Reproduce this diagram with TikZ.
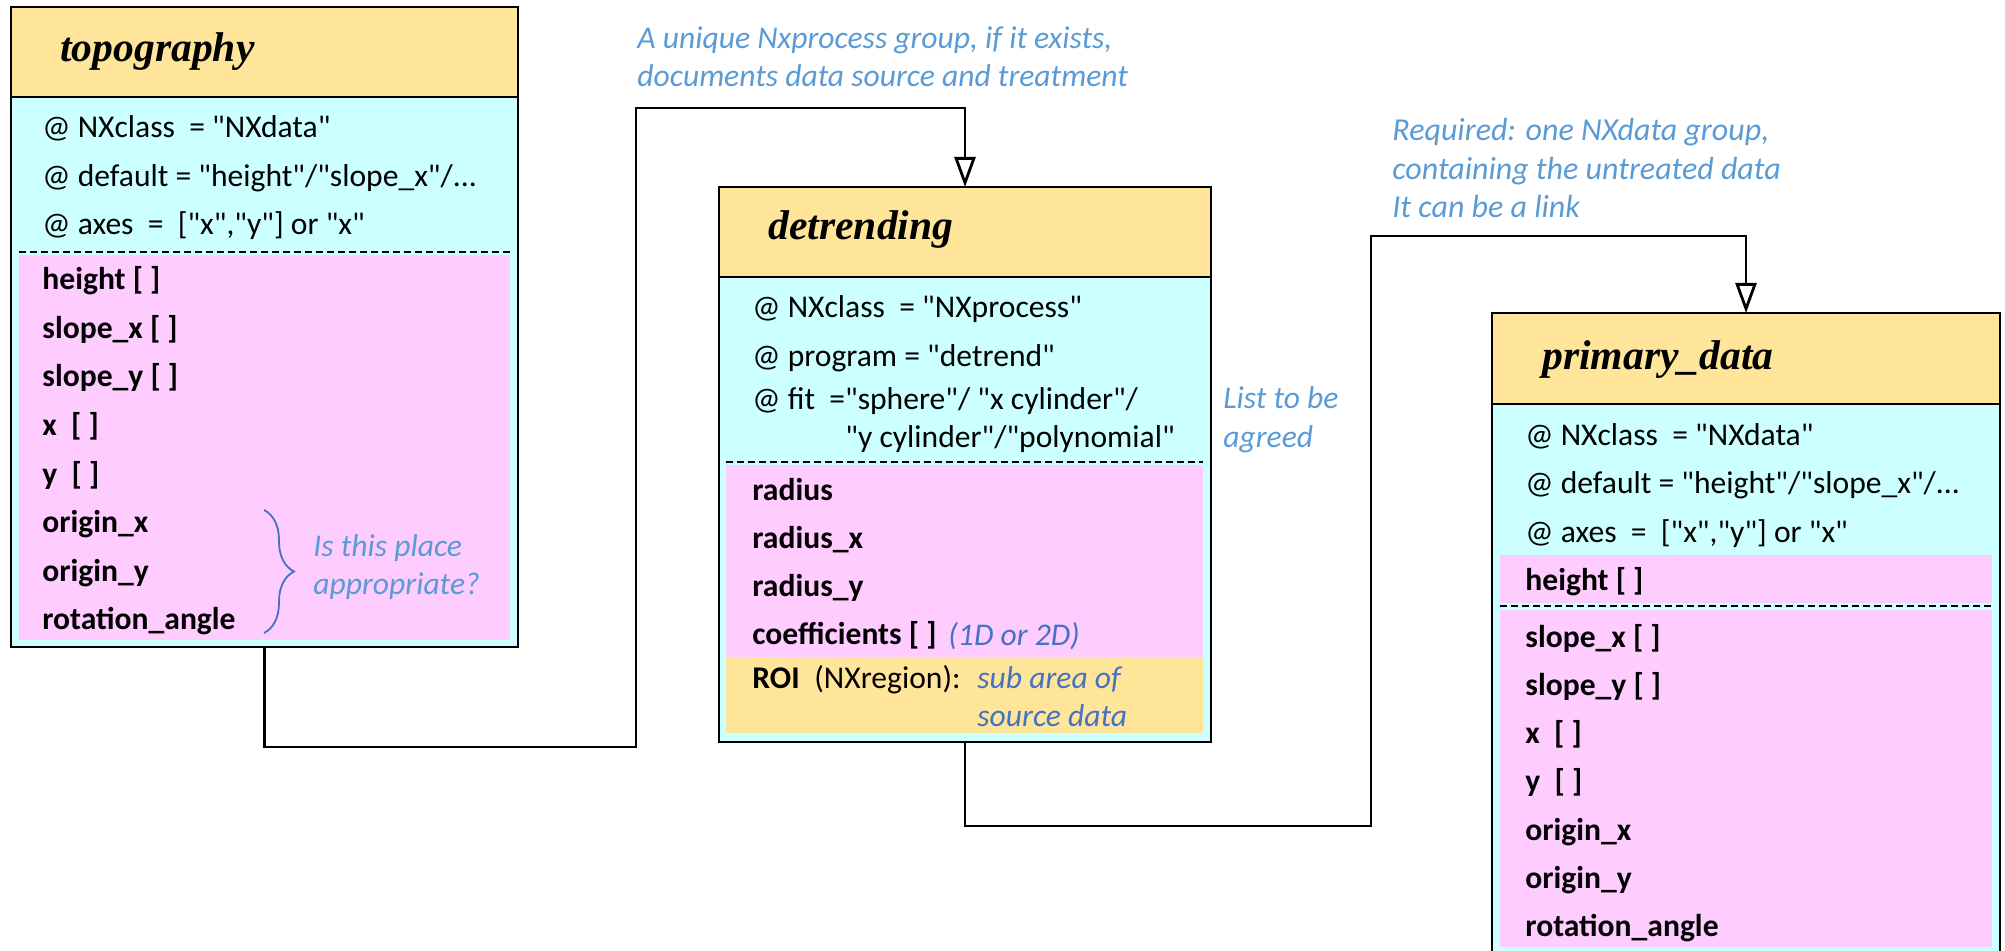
\documentclass[tikz,border=0pt]{standalone}
\usepackage{fontspec}
\setmainfont{Carlito}[Ligatures=TeXOff]
\newfontfamily\titlefont{Liberation Serif}
\usetikzlibrary{arrows.meta,decorations.pathreplacing}

\definecolor{headyellow}{HTML}{FFE599}
\definecolor{bodycyan}{HTML}{CCFFFF}
\definecolor{fieldpink}{HTML}{FFCCFF}
\definecolor{notecolor}{HTML}{5B9BD5}
\definecolor{notedark}{HTML}{4472C4}

\begin{document}
\begin{tikzpicture}
[x=0.5pt, y=-0.5pt]
\tikzset{
	classbox/.style = {rectangle, draw, line width=1.4pt, fill=bodycyan, anchor=north west, inner sep=0, outer sep=0},
	classhead/.style = {rectangle, draw, line width=1.4pt, fill=headyellow, anchor=north west, inner sep=0, outer sep=0, minimum height=45pt},
	classname/.style = {anchor=base west, inner sep=0, font=\titlefont\bfseries\itshape\fontsize{20.8}{24}\selectfont},
	attr/.style = {anchor=base west, inner sep=0, font=\fontsize{15.8}{19}\selectfont},
	field/.style = {anchor=base west, inner sep=0, font=\bfseries\fontsize{15.8}{19}\selectfont},
	note/.style = {anchor=base west, inner sep=0, align=left, text=notecolor, font=\itshape\fontsize{15.8}{19}\selectfont},
	divider/.style = {line width=1pt, dash pattern=on 3.5pt off 2pt},
	link/.style = {line width=1.4pt, -{Triangle[open, length=15pt, width=10.5pt]}}
}

\useasboundingbox (0,0) rectangle (2005,951);

% topography
\node[classbox, minimum width=253.5pt, minimum height=320pt] (topo) at (11,7) {};
\node[classhead, minimum width=253.5pt] (topo-head) at (11,7) {};
\node[classname] (topo-name) at (60,62) {topography};
\fill[fieldpink] (19,255) rectangle (510,640);
\draw[divider] (19,252) -- (510,252);
\node[attr] (topo-a1) at (42,138) {@ NXclass\ \ = "NXdata"};
\node[attr] (topo-a2) at (42,187) {@ default = "height"/"slope\_x"/...};
\node[attr] (topo-a3) at (42,235) {@ axes\ \ =\ \ ["x","y"] or "x"};
\foreach \f [count=\i from 0] in {{height [ ]}, {slope\_x [ ]}, {slope\_y [ ]}, {x\ \ [ ]}, {y\ \ [ ]}, {origin\_x}, {origin\_y}, {rotation\_angle}}
	\node[field] (topo-f\i) at (42,{290+48.5*\i}) {\f};
\draw[notedark, line width=0.9pt, decorate, decoration={brace, amplitude=15pt}] (264,510) -- (264,633);
\node[note] (topo-note) at (313,594) {Is this place\\appropriate?};

% detrending
\node[classbox, minimum width=246pt, minimum height=277.5pt] (detr) at (719,187) {};
\node[classhead, minimum width=246pt] (detr-head) at (719,187) {};
\node[classname] (detr-name) at (768,240) {detrending};
\fill[fieldpink] (726,465) rectangle (1203,657);
\fill[headyellow] (726,657) rectangle (1203,733);
\draw[divider] (726,462) -- (1203,462);
\node[attr] (detr-a1) at (752,318) {@ NXclass\ \ = "NXprocess"};
\node[attr] (detr-a2) at (752,367) {@ program = "detrend"};
\node[attr] (detr-a3) at (752,410) {@ fit\ \ ="sphere"/ "x cylinder"/};
\node[attr] (detr-a4) at (845,448) {"y cylinder"/"polynomial"};
\foreach \f [count=\i from 0] in {{radius}, {radius\_x}, {radius\_y}, {coefficients [ ]}}
	\node[field] (detr-f\i) at (752,{500+48.3*\i}) {\f};
\node[note, text=notedark] (detr-dim) at (948,645) {(1D or 2D)};
\node[field] (detr-roi) at (752,688) {ROI};
\node[attr] (detr-roi-cls) at (814,688) {(NXregion):};
\node[note, text=notedark] (detr-roi-note) at (977,726) {sub area of\\source data};
\node[note] (detr-note) at (1223,447) {List to be\\agreed};

% primary_data
\node[classbox, minimum width=254pt, minimum height=323.5pt] (prim) at (1492,313) {};
\node[classhead, minimum width=254pt, minimum height=45.5pt] (prim-head) at (1492,313) {};
\node[classname] (prim-name) at (1542,370) {primary\_data};
\fill[fieldpink] (1500,555) rectangle (1992,603);
\fill[fieldpink] (1500,610) rectangle (1992,947);
\draw[divider] (1500,606) -- (1992,606);
\node[attr] (prim-a1) at (1525,445) {@ NXclass\ \ = "NXdata"};
\node[attr] (prim-a2) at (1525,493) {@ default = "height"/"slope\_x"/...};
\node[attr] (prim-a3) at (1525,542) {@ axes\ \ =\ \ ["x","y"] or "x"};
\node[field] (prim-f0) at (1525,590) {height [ ]};
\foreach \f [count=\i] in {{slope\_x [ ]}, {slope\_y [ ]}, {x\ \ [ ]}, {y\ \ [ ]}, {origin\_x}, {origin\_y}, {rotation\_angle}}
	\node[field] (prim-f\i) at (1525,{598.7+48.3*\i}) {\f};

% links
\node[note] (link1-note) at (637,87) {A unique Nxprocess group, if it exists,\\documents data source and treatment};
\node[note, font=\itshape\fontsize{16}{19.3}\selectfont] (link2-note) at (1392,218) {Required: one NXdata group,\\containing the untreated data\\It can be a link};
\coordinate (j1a) at (636,747);
\coordinate (j1b) at (636,108);
\coordinate (j2a) at (1371,826);
\coordinate (j2b) at (1371,236);
\draw[link] (topo.south) |- (j1a) -- (j1b) -| (detr.north);
\draw[link] (detr.south) |- (j2a) -- (j2b) -| (prim.north);
\end{tikzpicture}
\end{document}
